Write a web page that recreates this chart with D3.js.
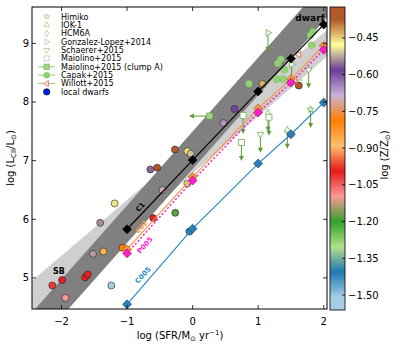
<!DOCTYPE html>
<html>
<head>
<meta charset="utf-8">
<script src="https://cdn.jsdelivr.net/npm/d3@7"></script>
<style>
  body { margin: 0; background: #fff; }
  text { font-family: "DejaVu Sans", sans-serif; }
</style>
</head>
<body>
<svg id="chart" width="400" height="351"></svg>
<script>
const xTicks = [-2, -1, 0, 1, 2];
const yTicks = [5, 6, 7, 8, 9];
const zTicks = [-1.50, -1.35, -1.20, -1.05, -0.90, -0.75, -0.60, -0.45];

// model relations, x = log SFR
const modelX = [-1, 0, 1, 1.5, 2];
const c1Y = [5.83, 7.01, 8.18, 8.74, 9.32];
const c02Y = [5.49, 6.72, 7.89, 8.39, 8.96];
const p005Y = [5.42, 6.66, 7.82, 8.33, 8.89];
const c005Y = [4.55, 5.84, 6.95, 7.45, 7.99];

// shaded relations, edges at the two ends
const bandX = [-2.6, 2.2];
const darkLo = [3.58, 9.63], darkHi = [4.22, 10.27];
const lightLo = [4.25, 8.92], lightHi = [4.81, 9.37];

// local dwarfs: log SFR, log L_CII, log Z
const dwarfX = [-2.14, -1.99, -1.94, -1.64, -1.60, -1.52, -1.36, -1.41, -1.19, -1.24, -1.07,
  -0.27, -0.08, -0.03, -0.645, -0.54, -0.46, -0.60, -0.265, -0.08, -0.05, 1.065, 0.64, 0.47, 1.62];
const dwarfY = [4.87, 4.965, 4.66, 5.01, 5.06, 5.41, 5.45, 5.94, 6.27, 4.87, 5.515,
  7.19, 7.16, 7.12, 6.85, 6.88, 6.50, 6.02, 6.11, 6.61, 5.79, 8.31, 7.88, 7.64, 8.28];
const dwarfZ = [-1.02, -1.00, -1.10, -0.99, -1.00, -0.53, -0.87, -0.54, -0.46, -1.52, -0.79,
  -0.37, -0.46, -0.51, -0.56, -0.36, -0.70, -1.00, -1.18, -0.50, -1.42, -0.43, -0.59, -0.66, -0.37];

// high-z galaxies [log SFR, log L_CII]
const himiko = [[1.80, 7.875]];
const iok1 = [[1.445, 7.52]];
const hcm6a = [[1.15, 7.81]];
const gonzalez = [[1.15, 9.18], [1.51, 8.64]];
const schaerer = [[1.035, 7.45], [1.77, 8.55]];
const maiolino = [[0.77, 7.77], [0.745, 7.31], [1.165, 7.74]];
const clumpA = [[0.26, 7.76]];
const capak = [[1.835, 9.20], [1.80, 9.14], [1.815, 8.97], [1.345, 8.73], [1.30, 8.66],
  [1.40, 8.55], [1.28, 8.39], [1.38, 8.39], [0.86, 8.31]];
const willott = [[1.62, 8.81], [1.56, 8.375]];
const limitLen = 0.3;

const legendLabels = ["Himiko", "IOK-1", "HCM6A", "Gonzalez-Lopez+2014", "Schaerer+2015",
  "Maiolino+2015", "Maiolino+2015 (clump A)", "Capak+2015", "Willott+2015", "local dwarfs"];

const svg = d3.select("#chart");
const L = 32, R = 327, T = 7, B = 309;
const x = d3.scaleLinear().domain([-2.45, 2.05]).range([L, R]);
const y = d3.scaleLinear().domain([4.47, 9.62]).range([B, T]);

// colour map (Paired, smoothed)
const zDom = [-1.561, -0.324];
const step = (zDom[1] - zDom[0]) / 12;
const color = d3.scaleLinear()
  .domain(d3.range(12).map(i => zDom[0] + step * (i + 0.5)))
  .range(d3.schemePaired)
  .clamp(true);

svg.append("clipPath").attr("id", "clip")
  .append("rect").attr("x", L).attr("y", T).attr("width", R - L).attr("height", B - T);
const plot = svg.append("g").attr("clip-path", "url(#clip)");

const band = (lo, hi) => d3.area()
  .x((d, i) => x(bandX[i]))
  .y0((d, i) => y(lo[i]))
  .y1((d, i) => y(hi[i]))(bandX);

plot.append("path").attr("d", band(lightLo, lightHi)).attr("fill", "#cfcfcf");
plot.append("path").attr("d", band(darkLo, darkHi)).attr("fill", "#808080");

// local dwarfs
plot.selectAll(".dwarf").data(dwarfX).enter().append("circle")
  .attr("class", "dwarf")
  .attr("cx", d => x(d))
  .attr("cy", (d, i) => y(dwarfY[i]))
  .attr("r", 3.5)
  .attr("fill", (d, i) => color(dwarfZ[i]))
  .attr("stroke", "#222").attr("stroke-width", 0.6);

const green = "#6fae4c", arrowGreen = "#5f9a3a";
const sym = (type, size) => d3.symbol().type(type).size(size)();

function arrowDown(g, px, py) {
  const y0 = y(py), y1 = y(py - limitLen);
  g.append("line").attr("x1", x(px)).attr("x2", x(px)).attr("y1", y0).attr("y2", y1 - 3)
    .attr("stroke", arrowGreen).attr("stroke-width", 1);
  g.append("path").attr("d", `M${x(px) - 2.5},${y1 - 4}L${x(px) + 2.5},${y1 - 4}L${x(px)},${y1 + 1}Z`)
    .attr("fill", arrowGreen);
}

function limits(data, type, size, rot) {
  data.forEach(d => arrowDown(plot, d[0], d[1]));
  plot.selectAll(null).data(data).enter().append("path")
    .attr("d", sym(type, size))
    .attr("transform", d => `translate(${x(d[0])},${y(d[1])}) rotate(${rot})`)
    .attr("fill", "white").attr("stroke", green).attr("stroke-width", 0.8);
}

limits(himiko, d3.symbolStar, 14, 0);
limits(iok1, d3.symbolTriangle, 18, 0);
limits(hcm6a, d3.symbolDiamond, 18, 0);
limits(gonzalez, d3.symbolTriangle, 18, 90);
limits(schaerer, d3.symbolTriangle, 18, 180);
limits(maiolino, d3.symbolSquare, 36, 0);

// clump A with left arrow
clumpA.forEach(d => {
  const x0 = x(d[0]), x1 = x(d[0] - limitLen), yy = y(d[1]);
  plot.append("line").attr("x1", x0).attr("x2", x1 + 3).attr("y1", yy).attr("y2", yy)
    .attr("stroke", arrowGreen).attr("stroke-width", 1);
  plot.append("path").attr("d", `M${x1 + 4},${yy - 2.5}L${x1 + 4},${yy + 2.5}L${x1 - 1},${yy}Z`)
    .attr("fill", arrowGreen);
  plot.append("path").attr("d", sym(d3.symbolSquare, 36))
    .attr("transform", `translate(${x0},${yy})`)
    .attr("fill", "#a5d68a").attr("stroke", green).attr("stroke-width", 0.8);
});

plot.selectAll(".capak").data(capak).enter().append("circle")
  .attr("class", "capak")
  .attr("cx", d => x(d[0])).attr("cy", d => y(d[1])).attr("r", 3.4)
  .attr("fill", "#92d174").attr("stroke", "#7fbf5f").attr("stroke-width", 0.6);

plot.append("line")
  .attr("x1", x(willott[1][0] - 0.12)).attr("x2", x(willott[1][0] + 0.12))
  .attr("y1", y(willott[1][1])).attr("y2", y(willott[1][1]))
  .attr("stroke", "#8cc870").attr("stroke-width", 1);
plot.selectAll(".willott").data(willott).enter().append("path")
  .attr("d", sym(d3.symbolTriangle, 18))
  .attr("transform", d => `translate(${x(d[0])},${y(d[1])}) rotate(-90)`)
  .attr("fill", "#fde8e0").attr("stroke", "#ee6a4a").attr("stroke-width", 0.9);

// model lines
const line = d3.line().x((d, i) => x(modelX[i])).y(d => y(d));
const models = [
  { ys: c1Y, stroke: "#000", fill: "#000", edge: "#000", dash: null, w: 1.2 },
  { ys: c02Y, stroke: "#f7943c", fill: "#f7943c", edge: "#9c5a1e", dash: null, w: 1.1 },
  { ys: p005Y, stroke: "#ff1fd0", fill: "#ff1fc8", edge: "#8a1070", dash: "2,2", w: 1.5 },
  { ys: c005Y, stroke: "#2e8ac6", fill: "#2e7fb8", edge: "#123a5a", dash: null, w: 1.2 }
];
models.forEach(m => {
  plot.append("path").attr("d", line(m.ys)).attr("fill", "none")
    .attr("stroke", m.stroke).attr("stroke-width", m.w)
    .attr("stroke-dasharray", m.dash);
});
models.forEach(m => {
  plot.selectAll(null).data(m.ys).enter().append("path")
    .attr("d", sym(d3.symbolSquare, 40))
    .attr("transform", (d, i) => `translate(${x(modelX[i])},${y(d)}) rotate(45)`)
    .attr("fill", m.fill).attr("stroke", m.edge).attr("stroke-width", 0.6);
});

// in-plot labels
const labels = [
  { t: "C1", x: -0.80, y: 6.21, c: "#000", rot: -48 },
  { t: "C02", x: -0.78, y: 5.87, c: "#f7943c", rot: -48 },
  { t: "P005", x: -0.73, y: 5.56, c: "#ff1fd0", rot: -48 },
  { t: "C005", x: -0.76, y: 5.05, c: "#2e8ac6", rot: -48 }
];
labels.forEach(l => {
  svg.append("text").attr("transform", `translate(${x(l.x)},${y(l.y)}) rotate(${l.rot})`)
    .attr("text-anchor", "middle").attr("dy", "0.35em")
    .attr("font-size", 7).attr("font-weight", "bold").attr("fill", l.c).text(l.t);
});
svg.append("text").attr("x", x(-2.04)).attr("y", y(5.12)).attr("dy", "0.35em")
  .attr("text-anchor", "middle").attr("font-size", 8).attr("font-weight", "bold").text("SB");
svg.append("text").attr("x", x(1.79)).attr("y", y(9.44)).attr("dy", "0.35em")
  .attr("text-anchor", "middle").attr("font-size", 9).attr("font-weight", "bold").text("dwarf");

// frame and ticks
svg.append("rect").attr("x", L).attr("y", T).attr("width", R - L).attr("height", B - T)
  .attr("fill", "none").attr("stroke", "#000").attr("stroke-width", 1);
const ax = svg.append("g").attr("stroke", "#000").attr("stroke-width", 0.8);
xTicks.forEach(t => {
  ax.append("line").attr("x1", x(t)).attr("x2", x(t)).attr("y1", B).attr("y2", B - 4);
  ax.append("line").attr("x1", x(t)).attr("x2", x(t)).attr("y1", T).attr("y2", T + 4);
});
yTicks.forEach(t => {
  ax.append("line").attr("y1", y(t)).attr("y2", y(t)).attr("x1", L).attr("x2", L + 4);
  ax.append("line").attr("y1", y(t)).attr("y2", y(t)).attr("x1", R).attr("x2", R - 4);
});
const fmt = d => d < 0 ? "\u2212" + Math.abs(d) : String(d);
svg.selectAll(".xt").data(xTicks).enter().append("text")
  .attr("x", d => x(d)).attr("y", 325).attr("text-anchor", "middle")
  .attr("font-size", 10).text(fmt);
svg.selectAll(".yt").data(yTicks).enter().append("text")
  .attr("x", 29).attr("y", d => y(d)).attr("dy", "0.35em").attr("text-anchor", "end")
  .attr("font-size", 10).text(fmt);

// axis titles
const xl = svg.append("text").attr("x", 180).attr("y", 339).attr("text-anchor", "middle").attr("font-size", 10);
xl.append("tspan").text("log (SFR/M");
xl.append("tspan").attr("font-size", 7).attr("dy", 2).text("\u2299");
xl.append("tspan").attr("dy", -2).text(" yr");
xl.append("tspan").attr("font-size", 7).attr("dy", -4).text("\u22121");
xl.append("tspan").attr("dy", 4).text(")");

const yl = svg.append("text").attr("transform", "translate(14,158) rotate(-90)")
  .attr("text-anchor", "middle").attr("font-size", 10);
yl.append("tspan").text("log (L");
yl.append("tspan").attr("font-size", 7).attr("dy", 2).text("CII");
yl.append("tspan").attr("dy", -2).text("/L");
yl.append("tspan").attr("font-size", 7).attr("dy", 2).text("\u2299");
yl.append("tspan").attr("dy", -2).text(")");

// legend
const lg = svg.append("g");
const ly = i => 16.7 + i * 8.35, lmx = 46.7;
const lgGreen = "#98cc80";
const legendMarks = [
  { type: d3.symbolStar, rot: 0, s: 10 }, { type: d3.symbolTriangle, rot: 0, s: 14 },
  { type: d3.symbolDiamond, rot: 0, s: 14 }, { type: d3.symbolTriangle, rot: 90, s: 14 },
  { type: d3.symbolTriangle, rot: 180, s: 14 }, { type: d3.symbolSquare, rot: 0, s: 26 }
];
legendMarks.forEach((m, i) => {
  lg.append("path").attr("d", sym(m.type, m.s))
    .attr("transform", `translate(${lmx},${ly(i)}) rotate(${m.rot})`)
    .attr("fill", "white").attr("stroke", i === 5 ? "#b8b8b8" : lgGreen).attr("stroke-width", 0.7);
});
[6, 7, 8].forEach(i => {
  lg.append("line").attr("x1", 38).attr("x2", 55).attr("y1", ly(i)).attr("y2", ly(i))
    .attr("stroke", lgGreen).attr("stroke-width", 1);
});
lg.append("path").attr("d", sym(d3.symbolSquare, 28)).attr("transform", `translate(${lmx},${ly(6)})`)
  .attr("fill", "#a5d68a").attr("stroke", green).attr("stroke-width", 0.7);
lg.append("circle").attr("cx", lmx).attr("cy", ly(7)).attr("r", 3)
  .attr("fill", "#92d174").attr("stroke", "#7fbf5f").attr("stroke-width", 0.6);
lg.append("path").attr("d", sym(d3.symbolTriangle, 16)).attr("transform", `translate(${lmx},${ly(8)}) rotate(-90)`)
  .attr("fill", "#fde8e0").attr("stroke", "#ee6a4a").attr("stroke-width", 0.8);
lg.append("circle").attr("cx", lmx).attr("cy", ly(9)).attr("r", 3.2)
  .attr("fill", "#0a1ee0").attr("stroke", "#000").attr("stroke-width", 0.6);
lg.selectAll("text").data(legendLabels).enter().append("text")
  .attr("x", 61).attr("y", (d, i) => ly(i)).attr("dy", "0.35em")
  .attr("font-size", 8).text(d => d);

// colour bar
const cb = d3.scaleLinear().domain(zDom).range([310, 7]);
const CX = 330, CW = 15;
svg.selectAll(".cbr").data(d3.range(7, 310)).enter().append("rect")
  .attr("x", CX).attr("y", d => d).attr("width", CW).attr("height", 1.2)
  .attr("fill", d => color(cb.invert(d + 0.5)));
svg.append("rect").attr("x", CX).attr("y", 7).attr("width", CW).attr("height", 303)
  .attr("fill", "none").attr("stroke", "#000").attr("stroke-width", 0.8);
zTicks.forEach(t => {
  svg.append("line").attr("x1", CX + CW).attr("x2", CX + CW - 3).attr("y1", cb(t)).attr("y2", cb(t))
    .attr("stroke", "#000").attr("stroke-width", 0.8);
});
svg.selectAll(".zt").data(zTicks).enter().append("text")
  .attr("x", CX + CW + 3).attr("y", d => cb(d)).attr("dy", "0.35em")
  .attr("font-size", 10).text(d => "\u2212" + Math.abs(d).toFixed(2));
const zl = svg.append("text").attr("transform", "translate(388,155) rotate(-90)")
  .attr("text-anchor", "middle").attr("font-size", 10);
zl.append("tspan").text("log (Z/Z");
zl.append("tspan").attr("font-size", 7).attr("dy", 2).text("\u2299");
zl.append("tspan").attr("dy", -2).text(")");
</script>
</body>
</html>
